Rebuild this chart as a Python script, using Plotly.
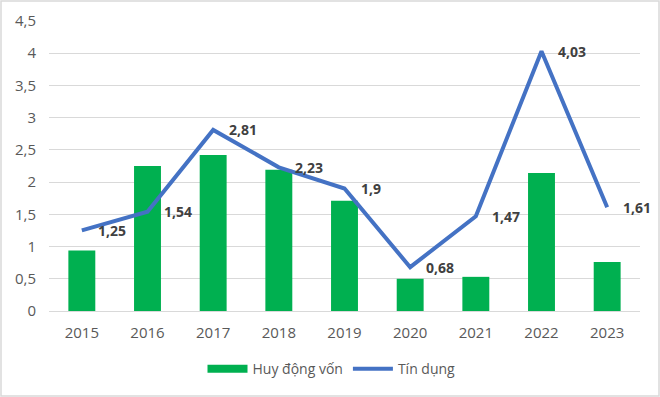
import plotly.graph_objects as go

years = ["2015", "2016", "2017", "2018", "2019", "2020", "2021", "2022", "2023"]
huy_dong_von = [0.94, 2.25, 2.42, 2.19, 1.71, 0.50, 0.53, 2.14, 0.76]
tin_dung = [1.25, 1.54, 2.81, 2.23, 1.90, 0.68, 1.47, 4.03, 1.61]
y_ticks = [0, 0.5, 1, 1.5, 2, 2.5, 3, 3.5, 4, 4.5]

W, H = 660, 397
ML, MR, MT, MB = 49, 20, 21, 86

fig = go.Figure()
fig.add_trace(go.Bar(x=years, y=huy_dong_von, name="Huy động vốn",
                     marker=dict(color="#00B050", line=dict(width=0)),
                     showlegend=False))
# legend proxy for the bar series (wide rectangle swatch like the original)
fig.add_trace(go.Scatter(x=[None], y=[None], name="Huy động vốn", mode="lines",
                         line=dict(color="#00B050", width=8)))
fig.add_trace(go.Scatter(x=years, y=tin_dung, name="Tín dụng", mode="lines",
                         line=dict(color="#4472C4", width=4)))

for i, v in enumerate(tin_dung):
    fig.add_annotation(x=i, y=v, text=("%g" % v).replace(".", ","),
                       showarrow=False, xanchor="left", yanchor="middle",
                       xshift=14, font=dict(family="Open Sans", size=14, color="#404040", weight="bold"))

pw = W - ML - MR
ph = H - MT - MB
fig.add_shape(type="rect", xref="paper", yref="paper",
              x0=-(ML - 1) / pw, x1=1 + (MR - 1) / pw,
              y0=-(MB - 1) / ph, y1=1 + (MT - 1) / ph,
              line=dict(color="#D9D9D9", width=1.5), layer="below")

fig.update_layout(
    width=W, height=H,
    margin=dict(l=ML, r=MR, t=MT, b=MB, autoexpand=False),
    paper_bgcolor="white", plot_bgcolor="white",
    separators=",.",
    bargap=0.59,
    showlegend=True,
    legend=dict(orientation="h", x=0.5 - 13 / pw, xanchor="center", y=-0.145, yanchor="top",
                font=dict(family="Open Sans", size=14, color="#595959"),
                itemwidth=40, traceorder="normal"),
    font=dict(family="Open Sans", size=14, color="#595959"),
)
fig.update_xaxes(type="category", categoryarray=years, range=[-0.5, len(years) - 0.5],
                 automargin=False, ticklabelstandoff=8,
                 showgrid=False, showline=True, linecolor="#D9D9D9", linewidth=1,
                 ticks="", tickfont=dict(size=15, color="#595959"))
fig.update_yaxes(range=[0, 4.5], tickvals=y_ticks, showgrid=True, gridcolor="#D9D9D9",
                 gridwidth=1, zeroline=False, showline=False, ticks="",
                 automargin=False, ticklabelstandoff=12,
                 tickfont=dict(size=15, color="#595959"))

fig.write_html("out.html", config={"displayModeBar": False},
               post_script="document.body.style.margin='0';document.body.style.overflow='hidden';")
